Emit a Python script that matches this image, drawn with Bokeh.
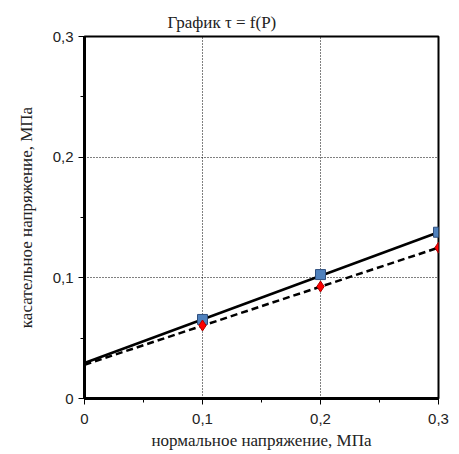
from bokeh.plotting import figure
from bokeh.models import FixedTicker, Range1d
from bokeh.embed import file_html
from bokeh.resources import INLINE

# data
p_vals = [0.1, 0.2, 0.3]
tau_sq = [0.0655, 0.1027, 0.1378]
tau_dm = [0.0605, 0.0928, 0.125]
line_x = [0.0, 0.3]
line_sq = [0.0294, 0.1378]
line_dm = [0.028, 0.125]
ticks = [0, 0.1, 0.2, 0.3]
tick_labels = ["0", "0,1", "0,2", "0,3"]
minor_ticks = [0.05, 0.15, 0.25]

p = figure(width=451, height=454, output_backend="svg", toolbar_location=None,
           x_range=Range1d(0, 0.3), y_range=Range1d(0, 0.3),
           min_border_left=84, min_border_right=13, min_border_top=36, min_border_bottom=56,
           title="График τ = f(P)")
p.title.text_font = "Liberation Serif"
p.title.text_font_size = "17px"
p.title.text_font_style = "normal"
p.title.align = "left"
p.title.offset = 83
p.title.text_color = "#222"

p.outline_line_color = "black"
p.outline_line_width = 2
p.outline_line_alpha = 1

for ax in (p.xaxis[0], p.yaxis[0]):
    ax.ticker = FixedTicker(ticks=ticks, minor_ticks=minor_ticks)
    ax.major_label_overrides = dict(zip(ticks, tick_labels))
    ax.axis_line_width = 3
    ax.axis_line_color = "black"
    ax.major_tick_out = 6
    ax.major_tick_in = 0
    ax.minor_tick_out = 4
    ax.minor_tick_in = 0
    ax.major_tick_line_color = "black"
    ax.minor_tick_line_color = "black"
    ax.major_label_text_font = "Liberation Sans"
    ax.major_label_text_font_size = "15px"
    ax.major_label_text_color = "#222"
    ax.axis_label_text_font = "Liberation Serif"
    ax.axis_label_text_font_size = "17px"
    ax.axis_label_text_font_style = "normal"
    ax.axis_label_text_color = "#222"

p.xaxis.axis_label = "нормальное напряжение, МПа"
p.yaxis.axis_label = "касательное напряжение, МПа"
p.xaxis.major_label_standoff = 9
p.xaxis.axis_label_standoff = 4
p.yaxis.major_label_standoff = 5
p.yaxis.axis_label_standoff = 14

for g in (p.xgrid[0], p.ygrid[0]):
    g.ticker = FixedTicker(ticks=[0.1, 0.2])
    g.grid_line_color = "black"
    g.grid_line_dash = "1 2"
    g.grid_line_width = 1

p.line(line_x, line_sq, line_color="black", line_width=2.5)
p.line(line_x, line_dm, line_color="black", line_width=2.5, line_dash="7 4")
p.scatter(p_vals, tau_sq, marker="square", size=10, fill_color="#4F81BD",
          line_color="#2F4F7F", line_width=1)
p.scatter(p_vals, tau_dm, marker="diamond", size=11, fill_color="#FF0000",
          line_color="#B00000", line_width=1)

open("out.html", "w").write(file_html(p, INLINE))
